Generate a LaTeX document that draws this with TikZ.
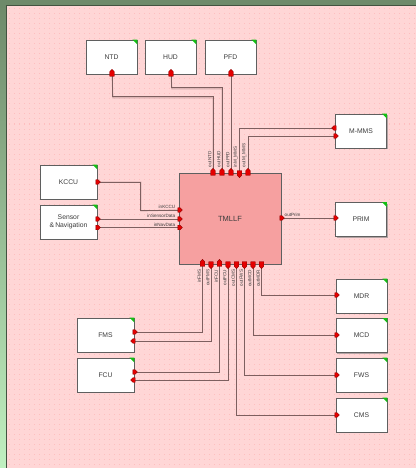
\documentclass[tikz,border=0pt]{standalone}
\usepackage{fontspec}
\setmainfont{Liberation Sans}
\usetikzlibrary{shapes.symbols,shadows}
\pgfdeclarelayer{bg}\pgfdeclarelayer{wires}
\pgfsetlayers{bg,wires,main}
\definecolor{canvas}{RGB}{255,214,214}
\definecolor{dotc}{RGB}{255,190,190}
\definecolor{frameg}{RGB}{110,138,106}
\definecolor{lightg}{RGB}{192,240,192}
\definecolor{wirec}{RGB}{125,95,95}
\definecolor{wiresh}{RGB}{205,165,165}
\definecolor{boxline}{RGB}{95,95,95}
\definecolor{mainfill}{RGB}{246,160,160}
\definecolor{portred}{RGB}{228,0,0}
\definecolor{cornerg}{RGB}{20,190,20}
\definecolor{txt}{RGB}{60,60,60}
\tikzset{
  box/.style={draw=boxline, line width=0.8pt, fill=white, minimum width=51pt, minimum height=34pt,
    inner sep=0pt, font=\fontsize{6.8}{8.3}\selectfont, text=txt, align=center,
    drop shadow={shadow xshift=1.2pt, shadow yshift=-1.2pt, fill=gray, opacity=0.6}},
  wide/.style={minimum width=57pt},
  mainbox/.style={draw=boxline, line width=0.8pt, fill=mainfill, minimum width=102pt, minimum height=91pt,
    inner sep=0pt, font=\fontsize{7.5}{9}\selectfont, text=txt},
  port/.style={signal, signal to=#1, fill=portred, draw=portred!60!black, line width=0.3pt,
    inner sep=0pt, minimum width=4.6pt, minimum height=4.6pt},
  wire/.style={draw=wirec, line width=1pt},
  wshadow/.style={draw=wiresh, line width=1pt, shift={(0.9,0.9)}},
  plab/.style={font=\fontsize{4.6}{5}\selectfont, text=txt, inner sep=0.5pt},
}
\newcommand{\corner}[1]{\fill[cornerg] (#1.north east) ++(-5,0) -- (#1.north east) -- ++(0,5) -- cycle;}
\begin{document}
\begin{tikzpicture}[x=1pt,y=-1pt]
\useasboundingbox (0,0) rectangle (416,468);
\begin{pgfonlayer}{bg}
  \fill[frameg] (0,0) rectangle (416,5);
  \shade[top color=frameg, bottom color=lightg] (0,5) rectangle (6,468);
  \fill[canvas] (6,5) rectangle (416,468);
  \foreach \yy in {9,14,...,466} {
    \draw[dotc, line width=1pt, dash pattern=on 1pt off 4pt] (9,\yy) -- (416,\yy);
  }
  \draw[frameg!60!black, line width=0.8pt] (6,468) -- (6,5) -- (416,5);
\end{pgfonlayer}

% boxes
\node[mainbox] (tmllf) at (230,218.5) {TMLLF};
\node[box] (ntd) at (111.5,57) {NTD};
\node[box] (hud) at (170.5,57) {HUD};
\node[box] (pfd) at (230.5,57) {PFD};
\node[box] (mmms) at (361,131) {M-MMS};
\node[box] (prim) at (361,219.5) {PRIM};
\node[box,wide] (kccu) at (68.5,182) {KCCU};
\node[box,wide] (sens) at (68.5,222) {Sensor\\\&\,Navigation};
\node[box,wide] (fms) at (105.5,335) {FMS};
\node[box,wide] (fcu) at (105.5,375) {FCU};
\node[box] (mdr) at (361.5,296) {MDR};
\node[box] (mcd) at (361.5,335.5) {MCD};
\node[box] (fws) at (361.5,375) {FWS};
\node[box] (cms) at (361.5,415) {CMS};
\foreach \b in {ntd,hud,pfd,mmms,prim,kccu,sens,fms,fcu,mdr,mcd,fws,cms} {\corner{\b}}

% ports
\node[port=east] (kccuo) at (97,182) {};
\node[port=east] (senso1) at (97,219) {};
\node[port=east] (senso2) at (97,227.5) {};
\node[port=east] (tin1) at (179,210) {};
\node[port=east] (tin2) at (179,219) {};
\node[port=east] (tin3) at (179,227.5) {};
\node[port=north] (tt1) at (213,173) {};
\node[port=north] (tt2) at (222,173) {};
\node[port=north] (tt3) at (231,173) {};
\node[port=south] (tt4) at (239.5,173) {};
\node[port=north] (tt5) at (248,173) {};
\node[port=north] (ntdi) at (112,74) {};
\node[port=north] (hudi) at (171,74) {};
\node[port=north] (pfdi) at (231,74) {};
\node[port=west] (mmo) at (335,128) {};
\node[port=east] (mmi) at (335,136) {};
\node[port=east] (tr) at (281,218) {};
\node[port=east] (primi) at (335,218) {};
\node[port=north] (tb1) at (202.5,264) {};
\node[port=south] (tb2) at (211,264) {};
\node[port=north] (tb3) at (219.5,264) {};
\node[port=south] (tb4) at (228,264) {};
\node[port=south] (tb5) at (236.5,264) {};
\node[port=south] (tb6) at (244.5,264) {};
\node[port=south] (tb7) at (253,264) {};
\node[port=south] (tb8) at (261.5,264) {};
\node[port=east] (fmso) at (134,332) {};
\node[port=west] (fmsi) at (134,341) {};
\node[port=east] (fcuo) at (134,372) {};
\node[port=west] (fcui) at (134,380) {};
\node[port=east] (mdri) at (336,295) {};
\node[port=east] (mcdi) at (336,335) {};
\node[port=east] (fwsi) at (336,375) {};
\node[port=east] (cmsi) at (336,415) {};

% wires
\begin{pgfonlayer}{wires}
  \foreach \st in {wshadow,wire} {
  \draw[\st] (kccuo.center) -| (140,210) -- (tin1.center);
  \draw[\st] (senso1.center) -- (tin2.center);
  \draw[\st] (senso2.center) -- (tin3.center);
  \draw[\st] (tt1.center) |- (112,97) -- (ntdi.center);
  \draw[\st] (tt2.center) |- (171,88) -- (hudi.center);
  \draw[\st] (tt3.center) -- (pfdi.center);
  \draw[\st] (tt4.center) |- (mmo.center);
  \draw[\st] (tt5.center) |- (mmi.center);
  \draw[\st] (tr.center) -- (primi.center);
  \draw[\st] (tb1.center) |- (fmso.center);
  \draw[\st] (tb2.center) |- (fmsi.center);
  \draw[\st] (tb3.center) |- (fcuo.center);
  \draw[\st] (tb4.center) |- (fcui.center);
  \draw[\st] (tb5.center) |- (cmsi.center);
  \draw[\st] (tb6.center) |- (fwsi.center);
  \draw[\st] (tb7.center) |- (mcdi.center);
  \draw[\st] (tb8.center) |- (mdri.center);
  }
\end{pgfonlayer}

% port labels
\node[plab, anchor=south east] (l1) at (176,209.5) {inKCCU};
\node[plab, anchor=south east] (l2) at (176,218.5) {inSensorData};
\node[plab, anchor=south east] (l3) at (176,227) {inNavData};
\node[plab, anchor=south west] (l4) at (284,217.5) {outPrim};
\node[plab, rotate=90, anchor=south west] (lt1) at (212,168) {outNTD};
\node[plab, rotate=90, anchor=south west] (lt2) at (221,168) {outHUD};
\node[plab, rotate=90, anchor=south west] (lt3) at (230,168) {outPFD};
\node[plab, rotate=90, anchor=south west] (lt4) at (238.5,168) {inM\_MMS};
\node[plab, rotate=90, anchor=south west] (lt5) at (247,168) {outM\_MMS};
\node[plab, rotate=90, anchor=south east] (lb1) at (201.5,269) {inFMS};
\node[plab, rotate=90, anchor=south east] (lb2) at (210,269) {outFMS};
\node[plab, rotate=90, anchor=south east] (lb3) at (218.5,269) {inFCU};
\node[plab, rotate=90, anchor=south east] (lb4) at (227,269) {outFCU};
\node[plab, rotate=90, anchor=south east] (lb5) at (235.5,269) {outCMS};
\node[plab, rotate=90, anchor=south east] (lb6) at (243.5,269) {outFWS};
\node[plab, rotate=90, anchor=south east] (lb7) at (252,269) {outMCD};
\node[plab, rotate=90, anchor=south east] (lb8) at (260.5,269) {outMDR};
\end{tikzpicture}
\end{document}
